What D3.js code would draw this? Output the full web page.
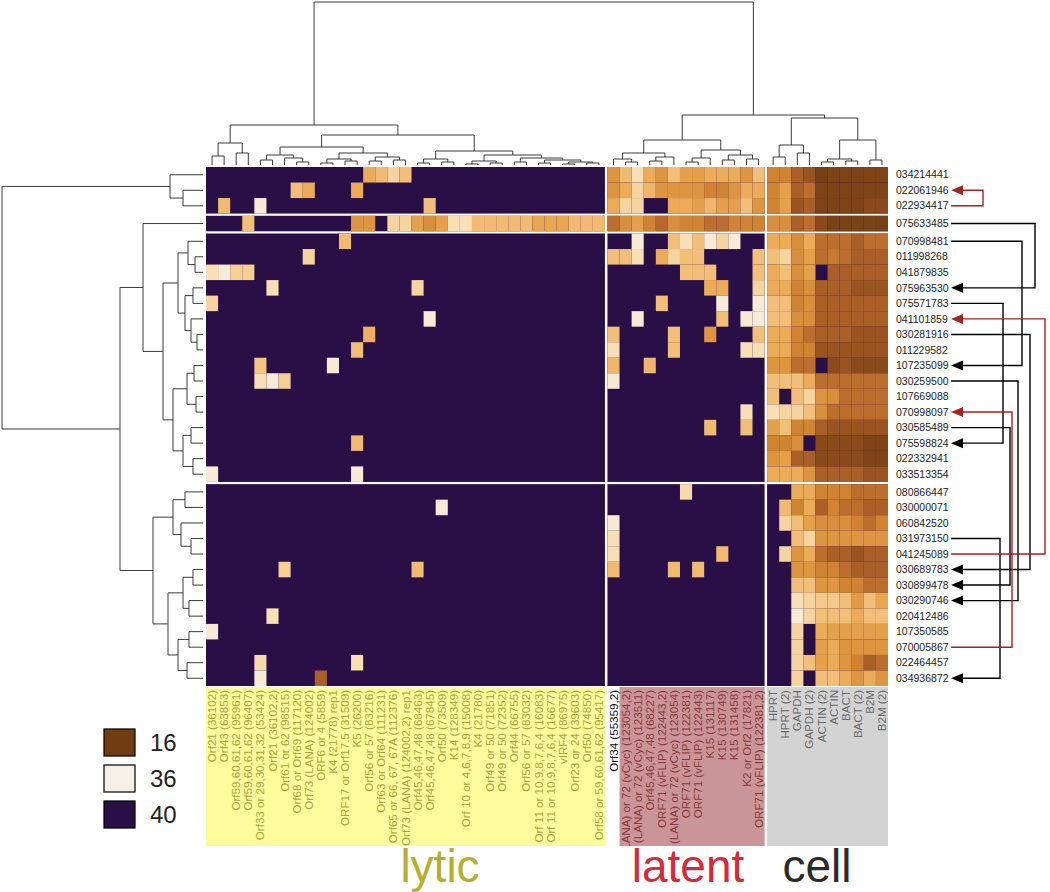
<!DOCTYPE html>
<html><head><meta charset="utf-8">
<script src="https://cdn.jsdelivr.net/npm/d3@7"></script>
<style>body{margin:0;background:#fff;} svg{display:block;font-family:"Liberation Sans",Arial,sans-serif;}</style>
</head><body><svg id="chart" width="1050" height="892"></svg>
<script>
// ---------------- DATA ----------------
const lyticCols = ["Orf21 (36102)","Orf43 (63853)","Orf59,60,61,62 (95961)","Orf59,60,61,62 (96407)","Orf33 or 29,30,31,32 (53424)","Orf21 (36102,2)","Orf61 or 62 (98515)","Orf68 or Orf69 (117120)","Orf73 (LANA) (124002)","ORF6 or 4 (5859)","K4 (21778) rep1","ORF17 or Orf17.5 (31509)","K5 (26200)","Orf56 or 57 (83216)","Orf63 or Orf64 (111231)","Orf65 or 66, 67, 67A (112376)","Orf73 (LANA) (124002,2) rep1","Orf45,46,47,48 (68463)","Orf45,46,47,48 (67845)","Orf50 (73509)","K14 (128349)","Orf 10 or 4,6,7,8,9 (15008)","K4 (21780)","Orf49 or 50 (71851)","Orf49 or 50 (72352)","Orf44 (66755)","Orf56 or 57 (83032)","Orf 11 or 10,9,8,7,6,4 (16083)","Orf 11 or 10,9,8,7,6,4 (16677)","vIRF4 (86975)","Orf23 or 24 (39603)","Orf50 (74850)","Orf58 or 59,60,61,62 (95417)"];
const latentCols = ["Orf34 (55359,2)","Orf73 (LANA) or 72 (vCyc) (123054,2)","Orf73 (LANA) or 72 (vCyc) (123511)","Orf45,46,47,48 (68227)","ORF71 (vFLIP) (122443,2)","Orf73 (LANA) or 72 (vCyc) (123054)","ORF71 (vFLIP) (122381)","ORF71 (vFLIP) (122443)","K15 (131117)","K15 (130749)","K15 (131458)","K2 or Orf2 (17821)","ORF71 (vFLIP) (122381,2)"];
const cellCols = ["HPRT","HPRT (2)","GAPDH","GAPDH (2)","ACTIN (2)","ACTIN","BACT","BACT (2)","B2M","B2M (2)"];
const rowIds = ["034214441","022061946","022934417","075633485","070998481","011998268","041879835","075963530","075571783","041101859","030281916","011229582","107235099","030259500","107669088","070998097","030585489","075598824","022332941","033513354","080866447","030000071","060842520","031973150","041245089","030689783","030899478","030290746","020412486","107350585","070005867","022464457","034936872"];
const rowClusterSizes = [3, 1, 16, 13];
const legendValues = [16, 36, 40];
const groupNames = ["lytic", "latent", "cell"];

// lytic Ct values that are below 40 (all other lytic cells are 40): [row, col, Ct]
const lyticHits = [
 [0,13,29.5],[0,14,31],[0,15,33.5],[0,16,31.5],
 [1,7,31.5],[1,8,29.5],[1,12,29.5],
 [2,1,31],[2,4,35.5],[2,18,31.5],
 [3,3,31.5],[3,12,27.5],[3,13,27.5],[3,15,33.5],[3,16,33.5],[3,17,28.5],[3,18,27],[3,19,28.5],[3,20,34.5],[3,21,34.5],[3,22,31],[3,23,31],[3,24,31],[3,25,31],[3,26,31],[3,27,29],[3,28,29],[3,29,29],[3,30,31],[3,31,31],[3,32,31],
 [4,11,31],[5,8,33.5],[6,0,34.5],[6,1,35.5],[6,2,33],[6,3,33],[7,5,34.5],[7,17,33.5],[8,0,33.5],[9,18,35.5],
 [10,13,30],[11,12,31.5],[12,4,32],[12,10,35.5],[13,4,34.5],[13,5,35.5],[13,6,33],[17,12,31],[19,0,35.5],[19,12,35.5],
 [21,19,35.5],[25,6,33],[25,17,31],[28,5,34.5],[29,0,35.5],[31,4,34],[31,12,34.5],[32,4,35.5],[32,9,22.5]
];
const latentCt = [
 [27.5,31,34.5,29.5,27.5,31.5,28.5,28.5,29.5,29.5,29.5,27.5,31.5],
 [27.5,29.5,33.5,30.5,27.5,27.5,27.5,27.5,26,26,27.5,29.5,29.5],
 [29.5,33.5,33.5,40,40,29.5,29.5,28.5,30.5,28.5,28.5,31.5,27.5],
 [24,27,28.5,26,23.5,27,26,26,24,24,26,26,26],
 [40,40,35.5,40,40,31.5,34.5,31.5,35.5,33.5,35.5,40,40],
 [31.5,31.5,34.5,40,29.5,33.5,31.5,31.5,40,40,40,40,31.5],
 [40,40,40,40,40,40,31.5,31.5,31.5,40,40,40,31.5],
 [40,40,40,40,40,40,40,40,29.5,29.5,40,40,33.5],
 [40,40,40,40,31.5,40,40,40,40,35.5,40,40,35.5],
 [40,40,35.5,40,40,40,40,40,40,31.5,40,35.5,35.5],
 [31.5,40,40,40,40,31.5,40,40,27.5,40,40,40,31.5],
 [34.5,40,40,40,40,31.5,40,40,40,40,40,34.5,34.5],
 [30.5,40,40,30.5,40,40,40,40,40,40,40,40,40],
 [35.5,40,40,40,40,40,40,40,40,40,40,40,40],
 [40,40,40,40,40,40,40,40,40,40,40,40,40],
 [40,40,40,40,40,40,40,40,40,40,40,34.5,40],
 [40,40,40,40,40,40,40,40,31,40,40,31.5,40],
 [40,40,40,40,40,40,40,40,40,40,40,40,40],
 [40,40,40,40,40,40,40,40,40,40,40,40,40],
 [40,40,40,40,40,40,40,40,40,40,40,40,40],
 [40,40,40,40,40,40,34,40,40,40,40,40,40],
 [40,40,40,40,40,40,40,40,40,40,40,40,40],
 [35.5,40,40,40,40,40,40,40,40,40,40,40,40],
 [34.5,40,40,40,40,40,40,40,40,40,40,40,40],
 [34.5,40,40,40,40,40,40,40,40,31,40,40,40],
 [31,40,40,40,40,31,40,31,40,40,40,40,40],
 [40,40,40,40,40,40,40,40,40,40,40,40,40],
 [40,40,40,40,40,40,40,40,40,40,40,40,40],
 [40,40,40,40,40,40,40,40,40,40,40,40,40],
 [40,40,40,40,40,40,40,40,40,40,40,40,40],
 [40,40,40,40,40,40,40,40,40,40,40,40,40],
 [40,40,40,40,40,40,40,40,40,40,40,40,40],
 [40,40,40,40,40,40,40,40,40,40,40,40,40]
];
const cellCt = [
 [26,26,22.5,21,17,18,18,18,18,18],
 [26,28.5,22.5,24,18,18,18,18,18,18],
 [26,28.5,21,22.5,18,18,18,18,19.5,19.5],
 [27,27,22.5,24,19.5,17.5,17.5,17.5,17.5,17],
 [29.5,29.5,27,29.5,24,24,24,22.5,24,24],
 [31.5,33.5,27,28.5,24,25,24,22.5,22.5,22.5],
 [29.5,31.5,27,28.5,40,22.5,22.5,22.5,22.5,22.5],
 [29.5,29.5,26,27,22.5,22.5,22.5,21,21,21],
 [31.5,31.5,26,27,22.5,22.5,22.5,22.5,22.5,22.5],
 [31.5,31.5,27,27,22.5,22.5,22.5,22.5,22.5,22.5],
 [29.5,29.5,26,24,22.5,22.5,22.5,21,21,21],
 [29.5,29.5,26,26,21,21,21,21,21,21],
 [27.5,27.5,24,24,40,19.5,21,19.5,19.5,19.5],
 [31.5,31.5,31.5,29.5,24,24,24,24,24,24],
 [31.5,40,31.5,33.5,27.5,27,24,24,24,24],
 [34.5,33.5,33.5,31.5,27,24,24,24,24,24],
 [28.5,31.5,26,26,22.5,21,21,21,21,21],
 [26,26,27,40,19.5,19.5,19.5,19.5,18,18],
 [27.5,28.5,22.5,22.5,19.5,19.5,19.5,19.5,18,18],
 [29.5,29.5,29.5,27.5,22.5,22.5,22.5,22.5,21,21],
 [40,40,29.5,29.5,26,26,26,24,24,24],
 [40,31,26,29.5,22.5,26,24,24,22.5,22.5],
 [40,33.5,31.5,28.5,27,27,27,26,24,26],
 [40,40,31.5,33.5,27.5,27.5,27.5,27.5,27.5,27.5],
 [40,33.5,27.5,29.5,24,22.5,22.5,21,22.5,22.5],
 [40,40,27.5,27.5,26,26,24,22.5,22.5,22.5],
 [40,40,31.5,31.5,27.5,27.5,26,26,24,24],
 [40,40,34.5,33.5,32.5,32.5,31.5,28,31.5,29],
 [40,40,35.5,33.5,31.5,31.5,31.5,29.5,31.5,31.5],
 [40,40,33.5,40,29.5,28.5,28.5,28.5,28.5,28.5],
 [40,40,33.5,40,28.5,29.5,27.5,27.5,27.5,27.5],
 [40,40,33.5,31.5,28.5,29.5,27.5,26,22.5,24],
 [40,40,33.5,40,31.5,31.5,29.5,27.5,29.5,27.5]
];

// Dendrograms: [mergeHeight, left, right]; leaves are column / row indices
const lyticTree = [40,
  [22,[9,0,1],[12,2,3]],
  [30,
    [18,[10,[5,4,5],[7,6,[3,7,8]]],[12,[6,[2,9,10],[4,11,12]],[8,[4,13,14],[5,15,16]]]],
    [14,[6,[2,17,18],[3,19,20]],[10,[4,[1,21,22],[2,23,24]],[7,[3,25,26],[5,[2,27,28],[3,[1,29,30],[2,31,32]]]]]]]];
const latentTree = [25,[12,[6,33,[3,34,35]],[8,[4,36,37],38]],[15,[7,[3,39,40],41],[10,[5,42,43],[6,44,45]]]];
const cellTree = [47,[20,[8,46,47],[12,48,49]],[25,[6,[3,50,51],[4,52,53]],[5,54,55]]];
const colTree = [163, lyticTree, [50, latentTree, cellTree]];

const rowsTop = [33, 0, [20, 1, 2]];
const rowsMid = [40,[25,[15,4,[8,5,6]],[18,[10,7,8],[12,9,[6,10,11]]]],[30,[16,[9,12,13],[7,14,15]],[20,[12,16,17],[10,18,19]]]];
const rowsLow = [50,[30,[18,20,21],[22,22,[12,23,24]]],[35,[20,[10,25,26],[14,27,28]],[25,[14,29,30],[16,31,32]]]];
const rowTree = [201, rowsTop, [83, [60, 3, rowsMid], rowsLow]];

// sample-pair connectors on the right
const links = [
 {from:"022934417", to:"022061946", color:"#a3231f", rail:983},
 {from:"075633485", to:"075963530", color:"#000", rail:1035},
 {from:"070998481", to:"107235099", color:"#000", rail:1022},
 {from:"075571783", to:"075598824", color:"#000", rail:1003},
 {from:"030281916", to:"030689783", color:"#000", rail:1030},
 {from:"030259500", to:"030290746", color:"#000", rail:1018},
 {from:"030585489", to:"030899478", color:"#000", rail:1010},
 {from:"031973150", to:"034936872", color:"#000", rail:1000},
 {from:"041245089", to:"041101859", color:"#a3231f", rail:1045},
 {from:"070005867", to:"070998097", color:"#a3231f", rail:1012}
];

// ---------------- LAYOUT ----------------
const svg = d3.select("#chart");
const colGap = 2.5, rowGap = 2.2;
const hmX0 = 206, hmX1 = 888, hmY0 = 167, hmY1 = 686;
const colGroups = [lyticCols, latentCols, cellCols];
const nCols = lyticCols.length + latentCols.length + cellCols.length;
const cw = (hmX1 - hmX0 - colGap*2) / nCols;
const xScales = [];
let xs = hmX0;
colGroups.forEach((g,i)=>{
  const sc = d3.scaleBand().domain(d3.range(g.length)).range([xs, xs + cw*g.length]).padding(0);
  xScales.push(sc); xs += cw*g.length + colGap;
});
const colOffsets = [0, lyticCols.length, lyticCols.length + latentCols.length];
function colX(c){ let gi = c < colOffsets[1] ? 0 : (c < colOffsets[2] ? 1 : 2); return xScales[gi](c - colOffsets[gi]); }
const nRows = rowIds.length;
const rh = (hmY1 - hmY0 - rowGap*(rowClusterSizes.length-1)) / nRows;
const yScales = []; let ys = hmY0, r0 = 0; const rowStart = [];
rowClusterSizes.forEach(n=>{
  const sc = d3.scaleBand().domain(d3.range(r0, r0+n)).range([ys, ys + rh*n]).padding(0);
  yScales.push(sc); rowStart.push(r0); ys += rh*n + rowGap; r0 += n;
});
function rowY(r){ let gi = 0; for (let i=0;i<rowStart.length;i++) if (r >= rowStart[i]) gi = i; return yScales[gi](r); }

const color = d3.scaleLinear()
  .domain([14, 17, 20, 23, 26, 29, 32, 34.5, 36, 40])
  .range(["#63350f","#764016","#8f4c1c","#b1632a","#d08433","#e9a651","#f4c482","#f8dfb6","#f6f1e7","#2a0f47"])
  .clamp(true);

// assemble the full matrix
const matrix = rowIds.map((id, r) => {
  const lyt = lyticCols.map(() => 40);
  lyticHits.filter(h => h[0] === r).forEach(h => { lyt[h[1]] = h[2]; });
  return lyt.concat(latentCt[r], cellCt[r]);
});

// panel backgrounds (value 40) so that no seams show between cells
const panels = [];
yScales.forEach(ysc => xScales.forEach(xsc => panels.push({x: xsc.range()[0], w: xsc.range()[1]-xsc.range()[0], y: ysc.range()[0], h: ysc.range()[1]-ysc.range()[0]})));
svg.append("g").selectAll("rect").data(panels).join("rect")
  .attr("x", d => d.x).attr("y", d => d.y).attr("width", d => d.w).attr("height", d => d.h).attr("fill", color(40));

// heatmap cells
const cells = [];
matrix.forEach((row, r) => row.forEach((v, c) => { if (v < 40) cells.push({r, c, v}); }));
svg.append("g").selectAll("rect").data(cells).join("rect")
  .attr("x", d => colX(d.c)).attr("y", d => rowY(d.r))
  .attr("width", cw).attr("height", rh)
  .attr("fill", d => color(d.v));

// ---------------- DENDROGRAMS ----------------
const dend = svg.append("g").attr("fill","none").attr("stroke","#3a3a3a").attr("stroke-width",1);
function drawTree(node, leafPos, hPos, horizontal){
  if (typeof node === "number") return {p: leafPos(node), h: 0};
  const a = drawTree(node[1], leafPos, hPos, horizontal);
  const b = drawTree(node[2], leafPos, hPos, horizontal);
  const h = node[0];
  const path = d3.path();
  if (!horizontal){
    path.moveTo(a.p, hPos(a.h)); path.lineTo(a.p, hPos(h)); path.lineTo(b.p, hPos(h)); path.lineTo(b.p, hPos(b.h));
  } else {
    path.moveTo(hPos(a.h), a.p); path.lineTo(hPos(h), a.p); path.lineTo(hPos(h), b.p); path.lineTo(hPos(b.h), b.p);
  }
  dend.append("path").attr("d", path.toString());
  return {p: (a.p + b.p)/2, h};
}
const colH = d3.scaleLinear().domain([0, 163]).range([165, 2]);
drawTree(colTree, c => colX(c) + cw/2, colH, false);
const rowH = d3.scaleLinear().domain([0, 201]).range([203, 2]);
drawTree(rowTree, r => rowY(r) + rh/2, rowH, true);

// ---------------- ROW LABELS ----------------
svg.append("g").selectAll("text").data(rowIds).join("text")
  .attr("x", 896).attr("y", (d,i) => rowY(i) + rh/2).attr("dy","0.35em")
  .attr("font-size", 10.5).attr("fill", "#222").text(d => d);

// ---------------- COLUMN LABELS ----------------
const labY0 = 687, labY1 = 846;
const bgSpecs = [
  {x0: colX(0), x1: colX(32) + cw, fill: "#fcfc9d"},
  {x0: colX(34), x1: colX(45) + cw, fill: "#c99598"},
  {x0: colX(46), x1: colX(55) + cw, fill: "#d3d3d3"}
];
svg.append("g").selectAll("rect").data(bgSpecs).join("rect")
  .attr("x", d => d.x0).attr("y", labY0).attr("width", d => d.x1 - d.x0).attr("height", labY1 - labY0)
  .attr("fill", d => d.fill);
const allCols = lyticCols.concat(latentCols, cellCols);
const labColor = c => c < 33 ? "#a8a53a" : (c === 33 ? "#111" : (c < 46 ? "#8a3a3c" : "#6a6a6a"));
svg.append("clipPath").attr("id","labclip").append("rect").attr("x",hmX0).attr("y",labY0).attr("width",hmX1-hmX0).attr("height",labY1-labY0);
const colLabG = svg.append("g").attr("clip-path","url(#labclip)");
colLabG.selectAll("text").data(allCols).join("text")
  .attr("transform", (d,i) => `translate(${colX(i) + cw/2},${labY0 + 3}) rotate(-90)`)
  .attr("dy","0.35em").attr("text-anchor","end")
  .attr("font-size", 11.6).attr("fill", (d,i) => labColor(i)).text(d => d);

// group titles
const groupTitleX = [440, 688, 817];
const groupColors = ["#b3b02f", "#d22b3c", "#2b2b2b"];
svg.append("g").selectAll("text").data(groupNames).join("text")
  .attr("x", (d,i) => groupTitleX[i]).attr("y", 882).attr("text-anchor","middle")
  .attr("font-size", 46).attr("fill", (d,i) => groupColors[i]).text(d => d);

// ---------------- LEGEND ----------------
const lg = svg.append("g");
lg.selectAll("rect").data(legendValues).join("rect")
  .attr("x", 104).attr("y", (d,i) => 729 + i*36).attr("width", 31).attr("height", 27)
  .attr("fill", d => color(d)).attr("stroke", "#000").attr("stroke-width", 1.2);
lg.selectAll("text").data(legendValues).join("text")
  .attr("x", 150).attr("y", (d,i) => 743 + i*36).attr("dy","0.35em")
  .attr("font-size", 24).attr("fill", "#222").text(d => d);

// ---------------- CONNECTORS ----------------
const labEnd = 951;
const yOf = id => rowY(rowIds.indexOf(id)) + rh/2;
const cg = svg.append("g").attr("fill","none").attr("stroke-width",1.4);
links.forEach(l => {
  const y1 = yOf(l.from), y2 = yOf(l.to);
  cg.append("path").attr("stroke", l.color)
    .attr("d", `M${labEnd},${y1}H${l.rail}V${y2}H${labEnd + 10}`);
  svg.append("path").attr("fill", l.color)
    .attr("d", `M${labEnd},${y2}L${labEnd + 12},${y2 - 5}L${labEnd + 12},${y2 + 5}Z`);
});
</script></body></html>
